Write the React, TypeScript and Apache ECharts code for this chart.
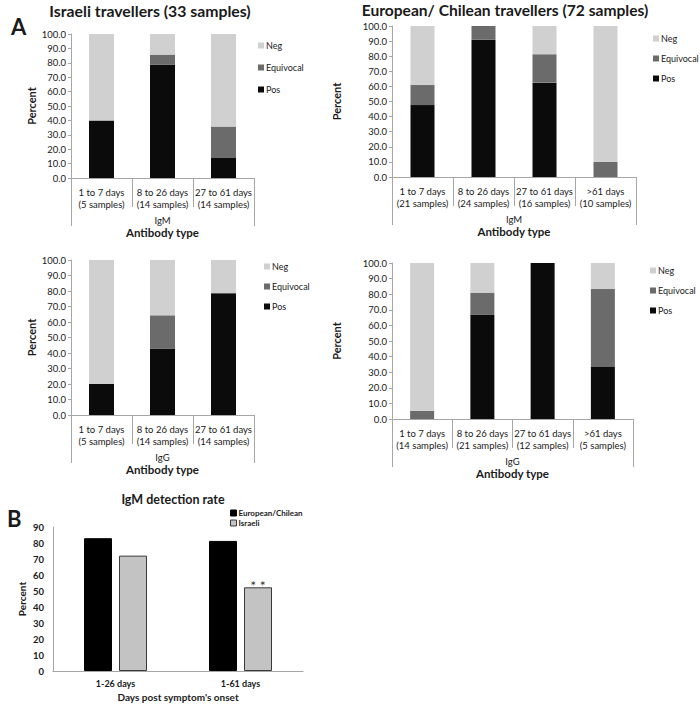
import React, { useEffect, useRef } from "react";
import * as echarts from "echarts";

const israeliCats = ["1 to 7 days\n(5 samples)", "8 to 26 days\n(14 samples)", "27 to 61 days\n(14 samples)"];
const europeanIgMCats = ["1 to 7 days\n(21 samples)", "8 to 26 days\n(24 samples)", "27 to 61 days\n(16 samples)", ">61 days\n(10 samples)"];
const europeanIgGCats = ["1 to 7 days\n(14 samples)", "8 to 26 days\n(21 samples)", "27 to 61 days\n(12 samples)", ">61 days\n(5 samples)"];

const israeliIgMPos = [40.0, 78.6, 14.3];
const israeliIgMEquivocal = [0, 7.1, 21.4];
const israeliIgMNeg = [60.0, 14.3, 64.3];

const europeanIgMPos = [47.6, 90.9, 62.5, 0];
const europeanIgMEquivocal = [13.3, 9.1, 18.8, 10.0];
const europeanIgMNeg = [39.1, 0, 18.7, 90.0];

const israeliIgGPos = [20.0, 42.9, 78.6];
const israeliIgGEquivocal = [0, 21.4, 0];
const israeliIgGNeg = [80.0, 35.7, 21.4];

const europeanIgGPos = [0, 66.7, 100.0, 33.3];
const europeanIgGEquivocal = [5.3, 14.3, 0, 50.0];
const europeanIgGNeg = [94.7, 19.0, 0, 16.7];

const detectionCats = ["1-26 days", "1-61 days"];
const detectionEuropean = [83.0, 81.3];
const detectionIsraeli = [72.1, 52.3];

const FONT = "Lato, 'Open Sans', sans-serif";
const AXIS_GRAY = "#a6a6a6";
const TXT = "#1a1a1a";
const NEG = "#d0d0d0";
const EQU = "#6b6b6b";
const POS = "#0b0b0b";

export default function App() {
  const ref = useRef<HTMLDivElement>(null);
  useEffect(() => {
    document.body.style.margin = "0";
    if (!ref.current) return;
    const chart = echarts.init(ref.current, null, { renderer: "svg" });

    const panels = [
      { grid: { left: 71, top: 34, width: 183, height: 144 }, cats: israeliCats, group: "IgM", pos: israeliIgMPos, equ: israeliIgMEquivocal, neg: israeliIgMNeg, bw: 25, nameGap: 34, legend: { left: 258, top: 41, gap: 13 } },
      { grid: { left: 392, top: 26, width: 244, height: 151 }, cats: europeanIgMCats, group: "IgM", pos: europeanIgMPos, equ: europeanIgMEquivocal, neg: europeanIgMNeg, bw: 24, nameGap: 50, legend: { left: 653, top: 34, gap: 11 } },
      { grid: { left: 71, top: 260, width: 183, height: 155 }, cats: israeliCats, group: "IgG", pos: israeliIgGPos, equ: israeliIgGEquivocal, neg: israeliIgGNeg, bw: 25, nameGap: 34, legend: { left: 264, top: 262, gap: 11 } },
      { grid: { left: 392, top: 263, width: 241, height: 156 }, cats: europeanIgGCats, group: "IgG", pos: europeanIgGPos, equ: europeanIgGEquivocal, neg: europeanIgGNeg, bw: 24, nameGap: 50, legend: { left: 650, top: 266, gap: 11 } },
    ];

    const grids: any[] = [];
    const xAxes: any[] = [];
    const yAxes: any[] = [];
    const series: any[] = [];
    const legends: any[] = [];

    panels.forEach((p, i) => {
      grids.push({ ...p.grid, containLabel: false });
      const catAxisIndex = xAxes.length;
      xAxes.push({
        type: "category",
        gridIndex: i,
        position: "bottom",
        data: p.cats,
        axisLine: { show: true, lineStyle: { color: AXIS_GRAY, width: 1 } },
        axisTick: { show: true, length: 29, lineStyle: { color: AXIS_GRAY } },
        axisLabel: { margin: 8, fontSize: 9.5, lineHeight: 12.5, color: TXT, fontFamily: FONT, interval: 0 },
      });
      xAxes.push({
        type: "category",
        gridIndex: i,
        position: "bottom",
        data: [p.group],
        axisLine: { show: false },
        axisTick: { show: true, length: 48, lineStyle: { color: AXIS_GRAY } },
        axisLabel: { margin: 37, fontSize: 9.5, color: TXT, fontFamily: FONT },
        name: "Antibody type",
        nameLocation: "middle",
        nameGap: 48,
        nameTextStyle: { fontSize: 11.5, fontWeight: "bold", color: TXT, fontFamily: FONT },
      });
      yAxes.push({
        type: "value",
        gridIndex: i,
        min: 0,
        max: 100,
        interval: 10,
        axisLine: { show: true, lineStyle: { color: AXIS_GRAY } },
        axisTick: { show: true, length: 3, lineStyle: { color: AXIS_GRAY } },
        splitLine: { show: false },
        axisLabel: { formatter: (v: number) => v.toFixed(1), fontSize: 9.5, color: TXT, fontFamily: FONT, margin: 5 },
        name: "Percent",
        nameLocation: "middle",
        nameGap: p.nameGap,
        nameTextStyle: { fontSize: 11, fontWeight: "bold", color: TXT, fontFamily: FONT },
      });
      const mk = (name: string, data: number[], color: string) => ({
        name,
        type: "bar",
        stack: "s" + i,
        xAxisIndex: catAxisIndex,
        yAxisIndex: i,
        barWidth: p.bw,
        data,
        itemStyle: { color },
      });
      series.push(mk("Pos", p.pos, POS), mk("Equivocal", p.equ, EQU), mk("Neg", p.neg, NEG));
      legends.push({
        orient: "vertical",
        left: p.legend.left,
        top: p.legend.top,
        padding: 0,
        itemGap: p.legend.gap,
        itemWidth: 6,
        itemHeight: 6,
        icon: "rect",
        data: ["Neg", "Equivocal", "Pos"],
        textStyle: { fontSize: 9, color: TXT, fontFamily: FONT, padding: [0, 0, 0, -3] },
        selectedMode: false,
      });
    });

    // Panel B
    grids.push({ left: 53, top: 527, width: 250, height: 144, containLabel: false });
    const bX = xAxes.length;
    xAxes.push({
      type: "category",
      gridIndex: 4,
      data: detectionCats,
      axisLine: { show: true, lineStyle: { color: AXIS_GRAY } },
      axisTick: { show: false },
      axisLabel: { margin: 8, fontSize: 9, fontWeight: "bold", color: TXT, fontFamily: FONT },
      name: "Days post symptom's onset",
      nameLocation: "middle",
      nameGap: 21,
      nameTextStyle: { fontSize: 10, fontWeight: "bold", color: TXT, fontFamily: FONT },
    });
    yAxes.push({
      type: "value",
      gridIndex: 4,
      min: 0,
      max: 90,
      interval: 10,
      axisLine: { show: true, lineStyle: { color: AXIS_GRAY } },
      axisTick: { show: false },
      splitLine: { show: false },
      axisLabel: { fontSize: 9.5, fontWeight: "bold", color: TXT, fontFamily: FONT, margin: 9 },
      name: "Percent",
      nameLocation: "middle",
      nameGap: 26,
      nameTextStyle: { fontSize: 10, fontWeight: "bold", color: TXT, fontFamily: FONT },
    });
    series.push(
      {
        name: "European/Chilean",
        type: "bar",
        xAxisIndex: bX,
        yAxisIndex: 4,
        barWidth: 28,
        barGap: "25%",
        data: detectionEuropean,
        itemStyle: { color: "#000000", borderColor: "#000000", borderWidth: 1 },
      },
      {
        name: "Israeli",
        type: "bar",
        xAxisIndex: bX,
        yAxisIndex: 4,
        barWidth: 28,
        barGap: "25%",
        data: detectionIsraeli.map((v, idx) =>
          idx === 1
            ? { value: v, label: { show: true, position: "top", formatter: "* *", fontSize: 14, color: "#333", fontFamily: FONT, distance: 0, offset: [0, 5] } }
            : v
        ),
        itemStyle: { color: "#c3c3c3", borderColor: "#3a3a3a", borderWidth: 1 },
      }
    );
    legends.push({
      orient: "vertical",
      left: 230,
      top: 509,
      padding: 0,
      itemGap: 2,
      itemWidth: 6,
      itemHeight: 6,
      icon: "rect",
      data: [
        { name: "European/Chilean", itemStyle: { color: "#000", borderColor: "#000", borderWidth: 1 } },
        { name: "Israeli", itemStyle: { color: "#c3c3c3", borderColor: "#3a3a3a", borderWidth: 1 } },
      ],
      textStyle: { fontSize: 8, fontWeight: "bold", color: TXT, fontFamily: FONT, padding: [0, 0, 0, -3] },
      selectedMode: false,
    });

    chart.setOption({
      animation: false,
      backgroundColor: "#ffffff",
      title: [
        { text: "Israeli travellers (33 samples)", left: 145, top: -3, textAlign: "center", textStyle: { fontSize: 15.8, fontWeight: "bold", color: TXT, fontFamily: FONT } },
        { text: "European/ Chilean travellers (72 samples)", left: 500, top: -3, textAlign: "center", textStyle: { fontSize: 15.6, fontWeight: "bold", color: TXT, fontFamily: FONT } },
        { text: "A", left: 6, top: 10, textStyle: { fontSize: 22, fontWeight: "bold", color: TXT, fontFamily: FONT } },
        { text: "B", left: 2, top: 502, textStyle: { fontSize: 22, fontWeight: "bold", color: TXT, fontFamily: FONT } },
        { text: "IgM detection rate", left: 168, top: 488, textAlign: "center", textStyle: { fontSize: 12.5, fontWeight: "bold", color: TXT, fontFamily: FONT } },
      ],
      grid: grids,
      xAxis: xAxes,
      yAxis: yAxes,
      legend: legends,
      series,
    });
    return () => chart.dispose();
  }, []);
  return <div ref={ref} style={{ width: 700, height: 704 }} />;
}
